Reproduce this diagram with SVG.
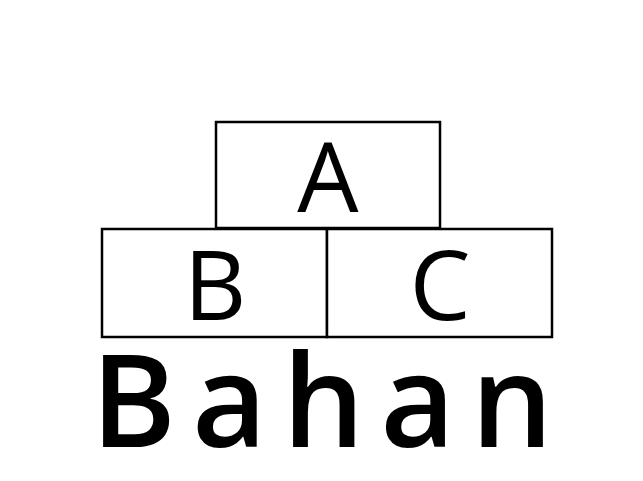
<svg xmlns="http://www.w3.org/2000/svg" width="643" height="481" viewBox="0 0 643 481">
<style>
.box{fill:#fff;stroke:#000;stroke-width:2.5}
.lbl{font-family:"Open Sans","Noto Sans",sans-serif;font-size:97px;fill:#000;text-anchor:middle}
.title{font-family:"Open Sans","Noto Sans",sans-serif;font-size:129px;font-weight:600;fill:#000}
</style>
<rect width="643" height="481" fill="#fff"/>
<g id="A"><rect class="box" x="216" y="122" width="224" height="106"/><text class="lbl" x="328" y="212">A</text></g>
<g id="B"><rect class="box" x="102" y="229" width="225" height="108"/><text class="lbl" x="215" y="320">B</text></g>
<g id="C"><rect class="box" x="327" y="229" width="225" height="108"/><text class="lbl" x="440" y="320">C</text></g>
<g id="connectors"></g>
<text id="title" class="title" x="91" y="447" textLength="462" lengthAdjust="spacing">Bahan</text>
</svg>
